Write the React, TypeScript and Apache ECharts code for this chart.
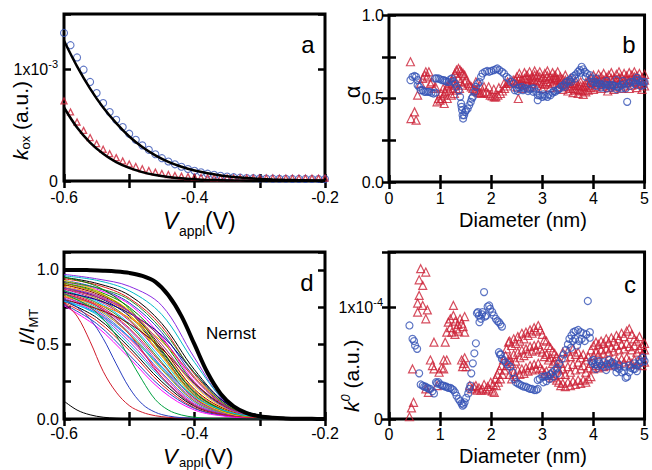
import React, { useEffect, useRef } from 'react';
import * as echarts from 'echarts';

const FONT = '"Liberation Sans", Arial, Helvetica, sans-serif';
const RED = '#cc2036';
const BLUE = '#3552b5';

// ---------------- panel a : k_ox vs V_appl (units of 1e-3) ----------------
const vA = [-0.6, -0.59, -0.58, -0.57, -0.56, -0.55, -0.54, -0.53, -0.52, -0.51, -0.5, -0.49, -0.48, -0.47, -0.46, -0.45, -0.44, -0.43, -0.42, -0.41, -0.4, -0.39, -0.38, -0.37, -0.36, -0.35, -0.34, -0.33, -0.32, -0.31, -0.3, -0.29, -0.28, -0.27, -0.26, -0.25, -0.24, -0.23, -0.22, -0.21, -0.2];
const kOxBlue = [1.33, 1.22, 1.11, 1.0, 0.89, 0.79, 0.7, 0.62, 0.55, 0.485, 0.425, 0.37, 0.32, 0.28, 0.24, 0.205, 0.175, 0.15, 0.128, 0.108, 0.092, 0.078, 0.066, 0.056, 0.047, 0.04, 0.034, 0.03, 0.027, 0.025, 0.023, 0.022, 0.021, 0.02, 0.02, 0.019, 0.019, 0.019, 0.018, 0.018, 0.018];
const kOxRed = [0.72, 0.62, 0.53, 0.455, 0.39, 0.335, 0.285, 0.245, 0.21, 0.18, 0.153, 0.13, 0.11, 0.094, 0.08, 0.068, 0.058, 0.05, 0.044, 0.039, 0.035, 0.032, 0.03, 0.029, 0.028, 0.028, 0.027, 0.027, 0.027, 0.027, 0.027, 0.027, 0.027, 0.026, 0.026, 0.026, 0.026, 0.026, 0.026, 0.026, 0.026];
const vFit = [-0.6, -0.58, -0.56, -0.54, -0.52, -0.5, -0.48, -0.46, -0.44, -0.42, -0.4, -0.38, -0.36, -0.34, -0.32, -0.3, -0.28, -0.26, -0.24, -0.22, -0.2];
const fitBlue = [1.26, 1.03, 0.83, 0.66, 0.52, 0.4, 0.305, 0.23, 0.172, 0.128, 0.094, 0.069, 0.05, 0.036, 0.026, 0.019, 0.014, 0.01, 0.007, 0.005, 0.004];
const fitRed = [0.66, 0.48, 0.345, 0.245, 0.17, 0.118, 0.08, 0.054, 0.036, 0.024, 0.016, 0.01, 0.007, 0.004, 0.003, 0.002, 0.001, 0.001, 0, 0, 0];

// ---------------- panel b : alpha vs diameter ----------------
const alphaBlue = [[0.42,0.61],[0.46,0.63],[0.5,0.635],[0.53,0.63],[0.56,0.61],[0.56,0.58],[0.59,0.57],[0.62,0.55],[0.66,0.55],[0.69,0.54],[0.72,0.54],[0.76,0.54],[0.79,0.54],[0.83,0.535],[0.87,0.53],[0.91,0.535],[0.9,0.62],[0.93,0.62],[0.97,0.62],[1.0,0.615],[1.04,0.61],[1.07,0.61],[1.1,0.605],[1.13,0.6],[1.17,0.6],[1.2,0.615],[1.23,0.62],[1.26,0.6],[1.29,0.59],[1.32,0.57],[1.36,0.55],[1.39,0.51],[1.41,0.47],[1.42,0.45],[1.43,0.43],[1.44,0.4],[1.45,0.38],[1.47,0.4],[1.49,0.42],[1.51,0.43],[1.54,0.44],[1.57,0.46],[1.6,0.48],[1.62,0.5],[1.64,0.51],[1.67,0.54],[1.7,0.57],[1.74,0.59],[1.77,0.6],[1.8,0.63],[1.83,0.65],[1.88,0.66],[1.92,0.665],[1.96,0.66],[2.0,0.665],[2.05,0.67],[2.09,0.675],[2.12,0.68],[2.16,0.67],[2.21,0.66],[2.25,0.65],[2.3,0.63],[2.34,0.62],[2.39,0.6],[2.44,0.59],[2.46,0.55],[2.5,0.56],[2.55,0.565],[2.6,0.57],[2.65,0.56],[2.7,0.56],[2.75,0.555],[2.8,0.56],[2.84,0.56],[2.88,0.54],[2.91,0.52],[2.91,0.49],[2.95,0.52],[3.0,0.51],[3.05,0.515],[3.1,0.51],[3.16,0.52],[3.2,0.535],[3.25,0.54],[3.29,0.55],[3.34,0.56],[3.38,0.575],[3.42,0.58],[3.46,0.595],[3.5,0.605],[3.54,0.61],[3.58,0.625],[3.62,0.635],[3.66,0.645],[3.7,0.66],[3.73,0.67],[3.77,0.69],[3.8,0.675],[3.83,0.66],[3.87,0.65],[3.93,0.64],[3.96,0.62],[3.99,0.6],[4.03,0.6],[4.08,0.59],[4.12,0.59],[4.17,0.58],[4.22,0.585],[4.27,0.58],[4.32,0.58],[4.37,0.58],[4.42,0.575],[4.46,0.57],[4.5,0.57],[4.55,0.58],[4.6,0.585],[4.63,0.56],[4.66,0.48],[4.69,0.59],[4.73,0.6],[4.78,0.6],[4.83,0.61],[4.88,0.61],[4.92,0.6],[4.96,0.6],[5.0,0.6],
  [2.52,0.545],[2.62,0.55],[2.72,0.545],[2.82,0.54],[3.02,0.525],[3.12,0.525],[3.22,0.545],[3.32,0.555],[3.44,0.57],[3.56,0.6],[3.64,0.62],[3.75,0.655],[3.85,0.63],[3.95,0.585],[4.05,0.575],[4.15,0.565],[4.25,0.56],[4.35,0.565],[4.45,0.555],[4.55,0.56],[4.72,0.575],[4.82,0.585],[4.92,0.575],[4.98,0.58],[4.05,0.62],[4.25,0.605],[4.45,0.61],[4.58,0.605],[4.85,0.625]];
const alphaRed = [[0.42,0.72],[0.43,0.38],[0.5,0.42],[0.53,0.37],[0.56,0.52],[0.62,0.59],[0.66,0.62],[0.7,0.64],[0.72,0.66],[0.75,0.63],[0.78,0.66],[0.81,0.59],[0.84,0.6],[0.88,0.56],[0.91,0.57],[0.94,0.48],[0.97,0.5],[1.0,0.49],[1.02,0.53],[1.04,0.5],[1.06,0.56],[1.07,0.52],[1.08,0.47],[1.1,0.54],[1.13,0.57],[1.14,0.5],[1.16,0.58],[1.18,0.55],[1.2,0.59],[1.22,0.52],[1.23,0.6],[1.25,0.56],[1.26,0.63],[1.28,0.53],[1.29,0.65],[1.3,0.58],[1.32,0.67],[1.33,0.55],[1.35,0.62],[1.36,0.68],[1.38,0.56],[1.39,0.67],[1.4,0.6],[1.42,0.66],[1.44,0.58],[1.45,0.65],[1.48,0.64],[1.48,0.6],[1.51,0.61],[1.55,0.59],[1.58,0.58],[1.61,0.57],[1.64,0.56],[1.68,0.55],[1.7,0.6],[1.71,0.55],[1.74,0.54],[1.77,0.535],[1.78,0.58],[1.8,0.53],[1.85,0.535],[1.86,0.57],[1.9,0.54],[1.94,0.53],[1.95,0.57],[1.98,0.52],[2.02,0.515],[2.05,0.555],[2.06,0.51],[2.09,0.51],[2.13,0.52],[2.15,0.565],[2.18,0.53],[2.22,0.545],[2.25,0.59],[2.26,0.56],[2.3,0.575],[2.32,0.6],[2.34,0.59],[2.38,0.6],[2.43,0.61],[2.47,0.61],[2.53,0.5],[4.28,0.545]];
// diameter, then three alpha readings at that diameter
const alphaRedBand = [[2.5,0.57,0.6,0.63],[2.55,0.59,0.62,0.65],[2.6,0.56,0.585,0.61],[2.65,0.58,0.62,0.655],[2.7,0.6,0.62,0.64],[2.75,0.57,0.615,0.66],[2.8,0.59,0.61,0.63],[2.85,0.61,0.64,0.665],[2.9,0.575,0.605,0.64],[2.95,0.6,0.63,0.66],[3.0,0.56,0.59,0.625],[3.05,0.585,0.615,0.65],[3.1,0.6,0.635,0.665],[3.15,0.565,0.6,0.63],[3.2,0.59,0.62,0.655],[3.25,0.61,0.625,0.64],[3.3,0.57,0.615,0.66],[3.35,0.59,0.61,0.63],[3.4,0.555,0.585,0.615],[3.45,0.575,0.61,0.64],[3.5,0.545,0.57,0.6],[3.55,0.56,0.59,0.62],[3.6,0.535,0.56,0.59],[3.65,0.55,0.58,0.605],[3.7,0.53,0.555,0.58],[3.75,0.545,0.575,0.6],[3.8,0.525,0.55,0.575],[3.85,0.54,0.57,0.595],[3.9,0.55,0.58,0.61],[3.95,0.565,0.595,0.625],[4.0,0.555,0.6,0.64],[4.05,0.57,0.595,0.62],[4.1,0.585,0.615,0.645],[4.15,0.56,0.595,0.63],[4.2,0.575,0.61,0.65],[4.25,0.59,0.605,0.625],[4.3,0.565,0.6,0.64],[4.35,0.58,0.62,0.655],[4.4,0.555,0.59,0.62],[4.45,0.57,0.61,0.645],[4.5,0.59,0.625,0.66],[4.55,0.56,0.595,0.63],[4.6,0.575,0.61,0.65],[4.65,0.595,0.615,0.635],[4.7,0.56,0.61,0.655],[4.75,0.58,0.61,0.64],[4.8,0.6,0.63,0.66],[4.85,0.565,0.6,0.635],[4.9,0.585,0.615,0.65],[4.95,0.555,0.59,0.625],[5.0,0.575,0.61,0.645]];

// ---------------- panel c : k0 vs diameter (units of 1e-4) ----------------
const k0Blue = [[0.4,0.84],[0.46,0.72],[0.49,0.7],[0.51,0.66],[0.55,0.63],[0.59,0.41],[0.62,0.31],[0.66,0.3],[0.69,0.29],[0.72,0.29],[0.75,0.28],[0.78,0.27],[0.81,0.27],[0.85,0.25],[0.88,0.23],[0.92,0.33],[0.94,0.32],[0.97,0.33],[1.0,0.31],[1.04,0.3],[1.07,0.3],[1.1,0.29],[1.13,0.29],[1.16,0.28],[1.2,0.28],[1.23,0.27],[1.26,0.26],[1.29,0.24],[1.32,0.21],[1.36,0.18],[1.39,0.16],[1.42,0.14],[1.44,0.12],[1.46,0.13],[1.48,0.15],[1.51,0.19],[1.55,0.23],[1.57,0.27],[1.59,0.3],[1.61,0.41],[1.64,0.5],[1.67,0.59],[1.7,0.68],[1.72,0.95],[1.74,0.96],[1.76,0.93],[1.77,0.87],[1.8,0.9],[1.82,0.94],[1.83,0.96],[1.86,1.14],[1.88,0.92],[1.9,0.93],[1.93,1.01],[1.96,1.02],[1.98,0.99],[2.02,0.96],[2.05,0.93],[2.09,0.9],[2.12,0.88],[2.15,0.87],[2.18,0.85],[2.21,0.83],[2.15,0.6],[2.17,0.58],[2.19,0.58],[2.21,0.54],[2.24,0.53],[2.28,0.51],[2.32,0.49],[2.37,0.47],[2.42,0.42],[2.45,0.36],[2.48,0.33],[2.52,0.32],[2.56,0.31],[2.6,0.3],[2.64,0.29],[2.68,0.29],[2.72,0.28],[2.76,0.27],[2.8,0.27],[2.84,0.26],[2.88,0.26],[2.91,0.27],[2.91,0.35],[2.95,0.36],[3.0,0.38],[3.05,0.38],[3.1,0.39],[3.16,0.4],[3.2,0.42],[3.25,0.44],[3.29,0.46],[3.33,0.5],[3.38,0.54],[3.42,0.58],[3.46,0.62],[3.5,0.67],[3.53,0.72],[3.56,0.64],[3.57,0.75],[3.6,0.7],[3.61,0.78],[3.64,0.72],[3.65,0.79],[3.68,0.66],[3.7,0.8],[3.72,0.7],[3.75,0.78],[3.77,0.72],[3.8,0.77],[3.83,0.7],[3.86,0.76],[3.89,1.06],[3.93,0.78],[3.93,0.73],[3.96,0.52],[3.99,0.5],[4.03,0.49],[4.08,0.48],[4.12,0.5],[4.17,0.48],[4.22,0.47],[4.28,0.49],[4.33,0.5],[4.37,0.51],[4.42,0.47],[4.47,0.46],[4.5,0.45],[4.55,0.42],[4.6,0.43],[4.63,0.37],[4.66,0.38],[4.7,0.42],[4.73,0.46],[4.78,0.45],[4.81,0.45],[4.85,0.48],[4.9,0.5],[4.94,0.51],[4.97,0.55],[5.0,0.52],
  [4.0,0.53],[4.1,0.52],[4.2,0.51],[4.3,0.53],[4.4,0.5],[4.5,0.49],[4.6,0.47],[4.7,0.48],[4.8,0.5],[4.9,0.53],[4.05,0.45],[4.25,0.44],[4.45,0.42],[4.85,0.43],[3.02,0.33],[3.08,0.34],[3.14,0.36],[3.22,0.38],[3.3,0.41]];
const k0Red = [[0.4,0.02],[0.44,0.1],[0.48,0.15],[0.46,0.45],[0.56,0.96],[0.56,1.04],[0.59,1.11],[0.59,1.25],[0.62,1.35],[0.66,1.2],[0.66,1.02],[0.72,1.32],[0.72,0.9],[0.75,0.98],[0.72,0.27],[0.77,0.24],[0.81,0.53],[0.85,0.48],[0.88,0.69],[0.88,0.45],[0.94,0.3],[0.98,0.42],[1.03,0.46],[1.07,0.53],[1.07,0.45],[1.1,0.69],[1.13,0.53],[1.13,0.78],[1.16,0.87],[1.2,0.82],[1.2,0.9],[1.23,0.78],[1.26,0.93],[1.26,1.02],[1.29,0.76],[1.3,0.88],[1.32,0.81],[1.35,0.85],[1.36,0.79],[1.39,0.9],[1.42,0.86],[1.45,0.83],[1.48,0.78],[1.48,0.92],[1.42,0.53],[1.44,0.47],[1.46,0.5],[1.48,0.55],[1.51,0.47],[1.58,0.3],[1.62,0.27],[1.66,0.29],[1.7,0.3],[1.72,0.26],[1.76,0.28],[1.8,0.26],[1.83,0.27],[1.86,0.31],[1.9,0.26],[1.93,0.29],[1.96,0.27],[1.99,0.33],[2.02,0.25],[2.04,0.31],[2.06,0.24],[2.08,0.36],[2.1,0.3],[2.12,0.4],[2.14,0.33],[2.16,0.44],[2.18,0.36],[2.2,0.48],[2.22,0.4],[2.24,0.53],[2.26,0.44],[2.28,0.57],[2.3,0.63],[2.31,0.48],[2.34,0.69],[2.35,0.52]];
// diameter, then three k0 readings at that diameter
const k0RedBand = [[2.36,0.4,0.55,0.7],[2.4,0.36,0.5,0.66],[2.44,0.42,0.58,0.72],[2.48,0.38,0.52,0.68],[2.52,0.44,0.6,0.74],[2.56,0.4,0.55,0.7],[2.6,0.45,0.62,0.77],[2.64,0.41,0.57,0.72],[2.68,0.46,0.63,0.78],[2.72,0.43,0.59,0.75],[2.76,0.48,0.65,0.8],[2.8,0.44,0.61,0.77],[2.84,0.49,0.66,0.82],[2.88,0.45,0.62,0.79],[2.92,0.5,0.67,0.84],[2.96,0.46,0.63,0.8],[3.0,0.44,0.6,0.76],[3.04,0.41,0.56,0.71],[3.08,0.43,0.58,0.7],[3.12,0.39,0.53,0.66],[3.16,0.41,0.55,0.64],[3.2,0.37,0.5,0.61],[3.24,0.39,0.52,0.59],[3.28,0.35,0.46,0.56],[3.32,0.33,0.44,0.53],[3.36,0.3,0.4,0.5],[3.4,0.32,0.45,0.6],[3.45,0.29,0.4,0.55],[3.5,0.33,0.47,0.61],[3.55,0.3,0.42,0.56],[3.6,0.34,0.49,0.63],[3.65,0.31,0.44,0.58],[3.7,0.35,0.51,0.6],[3.75,0.32,0.45,0.55],[3.8,0.35,0.48,0.58],[3.85,0.33,0.42,0.53],[3.9,0.36,0.46,0.56],[3.95,0.38,0.5,0.62],[4.0,0.45,0.57,0.66],[4.05,0.48,0.6,0.69],[4.1,0.46,0.58,0.67],[4.15,0.5,0.62,0.7],[4.2,0.47,0.59,0.68],[4.25,0.51,0.63,0.72],[4.3,0.48,0.6,0.69],[4.35,0.52,0.64,0.73],[4.4,0.49,0.61,0.7],[4.45,0.53,0.66,0.75],[4.5,0.5,0.62,0.72],[4.55,0.54,0.67,0.77],[4.6,0.51,0.63,0.74],[4.65,0.55,0.68,0.79],[4.7,0.52,0.65,0.81],[4.75,0.5,0.62,0.76],[4.8,0.53,0.66,0.72],[4.85,0.49,0.6,0.7],[4.9,0.52,0.63,0.74],[4.95,0.48,0.58,0.66],[5.0,0.51,0.62,0.68]];

// ---------------- panel d : I/I_MT vs V_appl ----------------
const vBand = [-0.6, -0.55, -0.5, -0.45, -0.4, -0.35, -0.3, -0.25, -0.2];
const bandCurves = [
  [0.97, 0.94, 0.89, 0.76, 0.41, 0.1, 0.02, 0.004, 0],
  [0.96, 0.93, 0.86, 0.7, 0.38, 0.11, 0.025, 0.005, 0],
  [0.95, 0.91, 0.83, 0.64, 0.33, 0.1, 0.025, 0.006, 0.001],
  [0.94, 0.9, 0.81, 0.62, 0.3, 0.09, 0.02, 0.005, 0],
  [0.93, 0.88, 0.78, 0.58, 0.28, 0.085, 0.02, 0.005, 0],
  [0.92, 0.87, 0.77, 0.55, 0.25, 0.07, 0.018, 0.004, 0],
  [0.91, 0.86, 0.75, 0.53, 0.24, 0.075, 0.02, 0.005, 0],
  [0.9, 0.85, 0.73, 0.5, 0.22, 0.065, 0.017, 0.004, 0],
  [0.9, 0.84, 0.72, 0.48, 0.2, 0.06, 0.015, 0.004, 0],
  [0.89, 0.83, 0.7, 0.46, 0.19, 0.055, 0.014, 0.003, 0],
  [0.88, 0.82, 0.69, 0.45, 0.18, 0.05, 0.013, 0.003, 0],
  [0.88, 0.81, 0.67, 0.43, 0.17, 0.05, 0.012, 0.003, 0],
  [0.87, 0.8, 0.66, 0.42, 0.16, 0.045, 0.011, 0.003, 0],
  [0.86, 0.79, 0.64, 0.4, 0.15, 0.045, 0.012, 0.003, 0],
  [0.86, 0.78, 0.63, 0.38, 0.14, 0.04, 0.01, 0.002, 0],
  [0.85, 0.77, 0.61, 0.37, 0.14, 0.04, 0.01, 0.002, 0],
  [0.84, 0.76, 0.6, 0.35, 0.13, 0.038, 0.01, 0.002, 0],
  [0.84, 0.75, 0.58, 0.34, 0.12, 0.035, 0.009, 0.002, 0],
  [0.83, 0.74, 0.57, 0.33, 0.12, 0.035, 0.009, 0.002, 0],
  [0.82, 0.73, 0.55, 0.31, 0.11, 0.03, 0.008, 0.002, 0],
  [0.82, 0.72, 0.54, 0.3, 0.1, 0.03, 0.008, 0.002, 0],
  [0.81, 0.71, 0.52, 0.28, 0.095, 0.028, 0.007, 0.002, 0],
  [0.8, 0.7, 0.5, 0.27, 0.09, 0.025, 0.006, 0.001, 0],
  [0.79, 0.68, 0.48, 0.25, 0.085, 0.024, 0.006, 0.001, 0],
  [0.78, 0.66, 0.46, 0.23, 0.075, 0.02, 0.005, 0.001, 0],
  [0.77, 0.64, 0.43, 0.21, 0.07, 0.02, 0.005, 0.001, 0],
  [0.76, 0.62, 0.41, 0.19, 0.06, 0.017, 0.004, 0.001, 0],
  [0.95, 0.89, 0.74, 0.46, 0.18, 0.05, 0.012, 0.003, 0],
  [0.93, 0.86, 0.7, 0.42, 0.15, 0.04, 0.01, 0.002, 0],
  [0.8, 0.74, 0.64, 0.47, 0.24, 0.08, 0.02, 0.005, 0],
  [0.82, 0.77, 0.68, 0.52, 0.28, 0.09, 0.022, 0.005, 0],
  [0.85, 0.8, 0.71, 0.56, 0.31, 0.1, 0.025, 0.006, 0],
  [0.91, 0.85, 0.72, 0.44, 0.16, 0.045, 0.011, 0.003, 0],
  [0.87, 0.82, 0.72, 0.54, 0.27, 0.08, 0.02, 0.005, 0],
  [0.79, 0.71, 0.55, 0.35, 0.15, 0.05, 0.013, 0.003, 0],
  [0.92, 0.88, 0.8, 0.6, 0.31, 0.09, 0.022, 0.005, 0],
  [0.84, 0.76, 0.57, 0.28, 0.09, 0.025, 0.006, 0.001, 0],
  [0.88, 0.83, 0.72, 0.5, 0.23, 0.07, 0.02, 0.004, 0],
];
const bandColors = ['#8a2be2', '#00b8c8', '#000000', '#e41a1c', '#2040c0', '#ff00ff', '#008000', '#ffd700', '#800000', '#ff8c00', '#000080', '#808000', '#c71585', '#00bfff', '#228b22', '#dc143c', '#9932cc', '#20b2aa', '#b8860b', '#4169e1', '#ff1493'];
const curveRed = [0.78, 0.69, 0.52, 0.32, 0.18, 0.09, 0.045, 0.022, 0.011, 0.005, 0.002, 0, 0, 0, 0, 0, 0, 0, 0, 0, 0];
const curveBlue = [0.8, 0.75, 0.67, 0.54, 0.37, 0.21, 0.1, 0.045, 0.02, 0.009, 0.004, 0.002, 0.001, 0, 0, 0, 0, 0, 0, 0, 0];
const curveGreen = [0.84, 0.8, 0.75, 0.67, 0.56, 0.41, 0.26, 0.13, 0.06, 0.027, 0.012, 0.005, 0.002, 0.001, 0, 0, 0, 0, 0, 0, 0];
const curveBlack = [0.12, 0.06, 0.028, 0.012, 0.005, 0.002, 0.001, 0, 0, 0, 0, 0, 0, 0, 0, 0, 0, 0, 0, 0, 0];
const nernst = [1.0, 1.0, 0.998, 0.995, 0.99, 0.98, 0.96, 0.92, 0.83, 0.69, 0.5, 0.31, 0.17, 0.085, 0.04, 0.018, 0.008, 0.004, 0.002, 0.001, 0];

const zip = (xs: number[], ys: number[]) => xs.map((x, i) => [x, ys[i]]);
const spread = (rows: number[][]) => rows.flatMap(([d, ...vals]) => vals.map((v) => [d, v]));

const rich = {
  m: { fontSize: 16, fontFamily: FONT, color: '#000' },
  s: { fontSize: 11, fontFamily: FONT, color: '#000', padding: [0, 0, 11, 0] },
};
const tick = { show: true, inside: true, length: 7, lineStyle: { color: '#000', width: 2.5 } };

function axis(gridIndex: number, position: string, min: number, max: number, interval: number, fmt?: any, margin = 8) {
  return {
    type: 'value', gridIndex, position, min, max, interval,
    axisLine: { show: false }, splitLine: { show: false }, axisTick: tick,
    axisLabel: fmt
      ? { show: true, formatter: fmt, margin, color: '#000', fontFamily: FONT, fontSize: 16, rich }
      : { show: false },
  };
}

const fmtV = (v: number) => (Math.round(v * 10) % 2 === 0 ? v.toFixed(1) : '');
const fmtHalf = (v: number) => (Math.abs(v) < 1e-9 || Math.abs(v - 0.5) < 1e-9 || Math.abs(v - 1) < 1e-9 ? v.toFixed(1) : '');
const fmtExp = (e: string) => (v: number) => (v === 1 ? `{m|1x10}{s|${e}}` : v === 0 ? '0' : '');
const fmtInt = (v: number) => String(v);

const txt = (x: number, y: number, text: string, font: string, align = 'center', extra: any = {}) => ({
  type: 'text', x, y, z: 100, ...extra,
  style: { text, fill: '#000', font, align, verticalAlign: 'middle' },
});
const rotRich = (x: number, y: number, text: string, r: any) => ({
  type: 'text', x, y, z: 100, rotation: Math.PI / 2,
  style: { text, rich: r, fill: '#000', align: 'left', verticalAlign: 'middle' },
});

const lineSeries = (xi: number, xs: number[], ys: number[], color: string, width: number) => ({
  type: 'line', xAxisIndex: xi, yAxisIndex: xi, data: zip(xs, ys), smooth: 0.35, showSymbol: false, silent: true,
  lineStyle: { color, width },
});

const option: any = {
  animation: false,
  backgroundColor: '#fff',
  grid: [
    { left: 64, top: 14, width: 261, height: 167 },
    { left: 389, top: 15, width: 262, height: 167 },
    { left: 389, top: 252, width: 262, height: 167 },
    { left: 64, top: 252, width: 261, height: 167 },
  ].map((g) => ({ ...g, show: true, borderColor: '#000', borderWidth: 3, backgroundColor: 'transparent' })),
  xAxis: [
    axis(0, 'bottom', -0.6, -0.2, 0.1, fmtV), axis(0, 'top', -0.6, -0.2, 0.1),
    axis(1, 'bottom', 0, 5, 1, fmtInt), axis(1, 'top', 0, 5, 1),
    axis(2, 'bottom', 0, 5, 1, fmtInt, 7), axis(2, 'top', 0, 5, 1),
    axis(3, 'bottom', -0.6, -0.2, 0.1, fmtV, 6), axis(3, 'top', -0.6, -0.2, 0.1),
  ],
  yAxis: [
    axis(0, 'left', 0, 1.5, 1, fmtExp('-3'), 6), axis(0, 'right', 0, 1.5, 1),
    axis(1, 'left', 0, 1, 0.25, fmtHalf, 5), axis(1, 'right', 0, 1, 0.25),
    axis(2, 'left', 0, 1.5, 1, fmtExp('-4'), 6), axis(2, 'right', 0, 1.5, 1),
    axis(3, 'left', 0, 1.12, 0.25, fmtHalf, 5), axis(3, 'right', 0, 1.12, 0.25),
  ],
  series: [
    // panel a
    { type: 'scatter', xAxisIndex: 0, yAxisIndex: 0, data: zip(vA, kOxBlue), symbol: 'circle', symbolSize: 7, itemStyle: { color: 'rgba(0,0,0,0)', borderColor: BLUE, borderWidth: 1.1 } },
    { type: 'scatter', xAxisIndex: 0, yAxisIndex: 0, data: zip(vA, kOxRed), symbol: 'triangle', symbolSize: 6, itemStyle: { color: 'rgba(0,0,0,0)', borderColor: RED, borderWidth: 1.3 } },
    lineSeries(0, vFit, fitBlue, '#000', 2.5),
    lineSeries(0, vFit, fitRed, '#000', 2.5),
    // panel b
    { type: 'scatter', xAxisIndex: 2, yAxisIndex: 2, data: [...alphaRed, ...spread(alphaRedBand)], symbol: 'triangle', symbolSize: 8, itemStyle: { color: 'rgba(0,0,0,0)', borderColor: RED, borderWidth: 1.2 } },
    { type: 'scatter', xAxisIndex: 2, yAxisIndex: 2, data: alphaBlue, symbol: 'circle', symbolSize: 7, itemStyle: { color: 'rgba(0,0,0,0)', borderColor: BLUE, borderWidth: 1.2 } },
    // panel c
    { type: 'scatter', xAxisIndex: 4, yAxisIndex: 4, data: [...k0Red, ...spread(k0RedBand)], symbol: 'triangle', symbolSize: 8, itemStyle: { color: 'rgba(0,0,0,0)', borderColor: RED, borderWidth: 1.2 } },
    { type: 'scatter', xAxisIndex: 4, yAxisIndex: 4, data: k0Blue, symbol: 'circle', symbolSize: 7, itemStyle: { color: 'rgba(0,0,0,0)', borderColor: BLUE, borderWidth: 1.2 } },
    // panel d
    ...bandCurves.map((c, i) => lineSeries(6, vBand, c, bandColors[i % bandColors.length], 1)),
    lineSeries(6, vFit, curveRed, '#d01c2c', 1),
    lineSeries(6, vFit, curveBlue, '#2a3fc0', 1),
    lineSeries(6, vFit, curveGreen, '#00a040', 1),
    lineSeries(6, vFit, curveBlack, '#000000', 1),
    lineSeries(6, vFit, nernst, '#000000', 4),
  ],
  graphic: [
    txt(308, 44, 'a', `24px ${FONT}`),
    txt(629, 44, 'b', `24px ${FONT}`),
    txt(307, 282, 'd', `24px ${FONT}`),
    txt(630, 284, 'c', `24px ${FONT}`),
    txt(231, 333, 'Nernst', `17px ${FONT}`),
    // x titles
    txt(163, 221, 'V', `italic 23px ${FONT}`, 'left'),
    txt(179, 231, 'appl', `14px ${FONT}`, 'left'),
    txt(205, 221, '(V)', `23px ${FONT}`, 'left'),
    txt(163, 456, 'V', `italic 22px ${FONT}`, 'left'),
    txt(179, 462, 'appl', `13px ${FONT}`, 'left'),
    txt(204, 456, '(V)', `22px ${FONT}`, 'left'),
    txt(523, 220, 'Diameter (nm)', `20px ${FONT}`),
    txt(523, 456, 'Diameter (nm)', `20px ${FONT}`),
    // y titles
    rotRich(20, 160, '{k|k}{s|ox}{n| (a.u.)}', {
      k: { fontSize: 21, fontStyle: 'italic', fontFamily: FONT, fill: '#000' },
      s: { fontSize: 13, fontFamily: FONT, fill: '#000', padding: [11, 0, 0, 0] },
      n: { fontSize: 21, fontFamily: FONT, fill: '#000' },
    }),
    rotRich(351, 412, '{k|k}{s|0}{n| (a.u.)}', {
      k: { fontSize: 21, fontStyle: 'italic', fontFamily: FONT, fill: '#000' },
      s: { fontSize: 13, fontStyle: 'italic', fontFamily: FONT, fill: '#000', padding: [0, 0, 12, 0] },
      n: { fontSize: 21, fontFamily: FONT, fill: '#000' },
    }),
    rotRich(26, 345, '{i|I/I}{s|MT}', {
      i: { fontSize: 21, fontStyle: 'italic', fontFamily: FONT, fill: '#000' },
      s: { fontSize: 13, fontFamily: FONT, fill: '#000', padding: [14, 0, 0, 0] },
    }),
    txt(352, 92, 'α', `22px ${FONT}`, 'center', { rotation: Math.PI / 2 }),
  ],
};

export default function App() {
  const ref = useRef<HTMLDivElement>(null);
  useEffect(() => {
    const chart = echarts.init(ref.current as HTMLDivElement, null, { renderer: 'svg' });
    chart.setOption(option);
    return () => chart.dispose();
  }, []);
  return <div ref={ref} style={{ position: 'fixed', left: 0, top: 0, width: 652, height: 470, background: '#fff' }} />;
}
